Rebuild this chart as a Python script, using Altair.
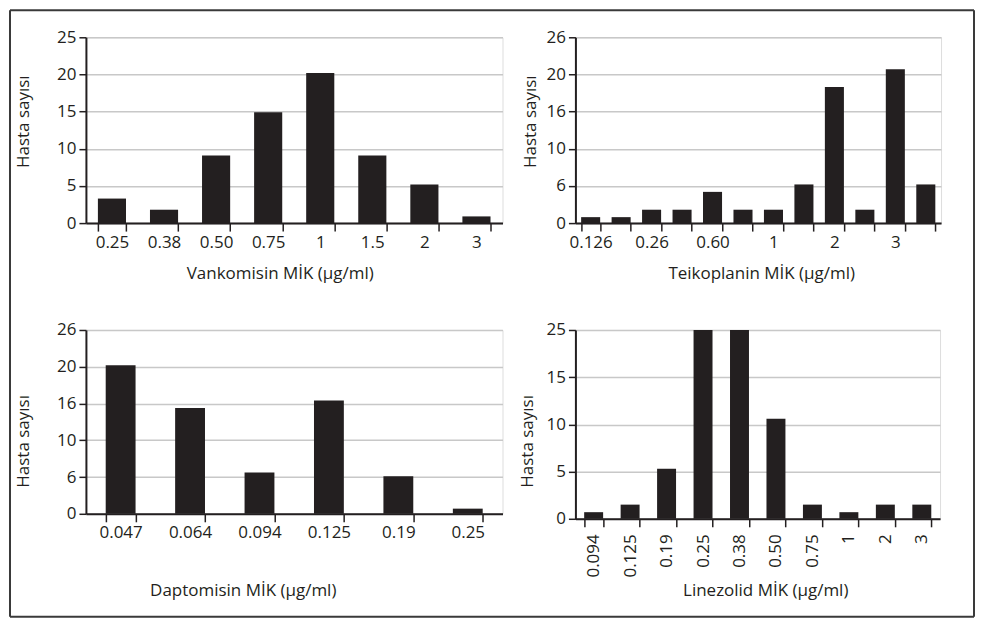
import altair as alt
import pandas as pd

# ---- data ----
vank_cats = ["0.25", "0.38", "0.50", "0.75", "1", "1.5", "2", "3"]
vank_vals = [3.3, 1.8, 9.1, 14.9, 20.2, 9.1, 5.2, 0.9]

teik_cats = ["0.126", "0.19", "0.26", "0.38", "0.60", "0.75", "1", "1.5", "2", "2.5", "3", "4"]
teik_vals = [0.8, 0.8, 1.8, 1.8, 4.2, 1.8, 1.8, 5.2, 18.3, 1.8, 20.7, 5.2]
teik_shown = ["0.126", "0.26", "0.60", "1", "2", "3"]

dapt_cats = ["0.047", "0.064", "0.094", "0.125", "0.19", "0.25"]
dapt_vals = [20.2, 14.4, 5.6, 15.4, 5.1, 0.7]

lin_cats = ["0.094", "0.125", "0.19", "0.25", "0.38", "0.50", "0.75", "1", "2", "3"]
lin_vals = [0.7, 1.5, 5.3, 25, 25, 10.6, 1.5, 0.7, 1.5, 1.5]

y_ticks_25 = [0, 5, 10, 15, 20, 25]
y_labels_26 = ["0", "6", "10", "16", "20", "26"]
y_ticks_20 = [0, 5, 10, 15, 20]
y_labels_lin = ["0", "5", "10", "15", "25"]

INK = "#231f20"
FONT = "Open Sans"
FS = 17


def label_expr(ticks, labels):
    expr = "datum.label"
    for t, l in zip(reversed(ticks), reversed(labels)):
        expr = f"datum.value == {t} ? '{l}' : ({expr})"
    return expr


def panel(cats, vals, ymax, ticks, labels, w, h, pad, title, tx, ty, ytx, yty,
          angle=0, xlabel_expr=None, clamp=False):
    df = pd.DataFrame({"k": cats, "v": vals})
    xaxis = dict(
        title=title, titleX=tx, titleY=ty, titleAlign="center", titleBaseline="middle",
        titleAnchor="start",
        tickBand="extent", ticks=True, tickSize=8, tickWidth=1.5, tickColor=INK,
        domainColor=INK, domainWidth=2, labelAngle=angle, labelPadding=3,
        labelColor=INK, labelFontSize=FS, titleFontSize=FS, titleFontWeight="normal",
        titleColor=INK, grid=False, labelFont=FONT, titleFont=FONT,
    )
    if angle:
        xaxis.update(labelAlign="right", labelBaseline="middle", labelPadding=7)
    if xlabel_expr:
        xaxis["labelExpr"] = xlabel_expr
    yaxis = dict(
        title="Hasta sayısı", titleX=ytx, titleY=yty, titleAlign="center", titleBaseline="middle",
        titleAngle=270, values=ticks, labelExpr=label_expr(ticks, labels),
        tickSize=7, tickWidth=1.5, tickColor=INK, domainColor=INK, domainWidth=2,
        gridColor="#c8c8c8", gridWidth=1.5, labelColor=INK, labelFontSize=FS,
        titleFontSize=FS, titleFontWeight="normal", titleColor=INK, labelPadding=3,
        labelFont=FONT, titleFont=FONT,
    )
    return alt.Chart(df).mark_bar(color=INK).encode(
        x=alt.X("k:N", sort=cats, axis=alt.Axis(**xaxis),
                scale=alt.Scale(paddingInner=pad, paddingOuter=pad / 2)),
        y=alt.Y("v:Q", axis=alt.Axis(**yaxis),
                scale=alt.Scale(domain=[0, ymax], nice=False, clamp=clamp)),
    ).properties(width=w, height=h)


p1 = panel(vank_cats, vank_vals, 25, y_ticks_25, [str(t) for t in y_ticks_25], 417, 186, 0.46,
           "Vankomisin MİK (µg/ml)", 194, 50, -62, 84)

shown = ",".join(f"'{s}'" for s in teik_shown)
p2 = panel(teik_cats, teik_vals, 25, y_ticks_25, y_labels_26, 366, 186, 0.375,
           "Teikoplanin MİK (µg/ml)", 186, 50, -45, 84,
           xlabel_expr=f"indexof([{shown}], datum.label) >= 0 ? datum.label : ''")

p3 = panel(dapt_cats, dapt_vals, 25, y_ticks_25, y_labels_26, 417, 184, 0.57,
           "Daptomisin  MİK (µg/ml)", 157, 77, -62, 111)

p4 = panel(lin_cats, lin_vals, 20, y_ticks_20, y_labels_lin, 365, 189, 0.48,
           "Linezolid MİK (µg/ml)", 190, 72, -48, 111, angle=270, clamp=True)

# outer frame of the figure (decoration), drawn relative to the first panel
fdf = pd.DataFrame({"a": [0]})
FL, FT, FR, FB = -76, -27, 889, 580
frame_style = dict(color="#3a3a3a", strokeWidth=2, clip=False)
frame = alt.layer(
    alt.Chart(fdf).mark_rule(**frame_style).encode(x=alt.value(FL), x2=alt.value(FR), y=alt.value(FT)),
    alt.Chart(fdf).mark_rule(**frame_style).encode(x=alt.value(FL), x2=alt.value(FR), y=alt.value(FB)),
    alt.Chart(fdf).mark_rule(**frame_style).encode(x=alt.value(FL), y=alt.value(FT), y2=alt.value(FB)),
    alt.Chart(fdf).mark_rule(**frame_style).encode(x=alt.value(FR), y=alt.value(FT), y2=alt.value(FB)),
)

p1f = alt.layer(p1, frame)

chart = alt.concat(
    p1f, p2, p3, p4, columns=2, bounds="flush",
    spacing=alt.RowColnumber(row=107, column=73),
).configure_view(
    stroke=INK, strokeWidth=1.5
).configure(background="white", padding=0)

chart.save("out.html", embed_options={"renderer": "svg", "actions": False})
